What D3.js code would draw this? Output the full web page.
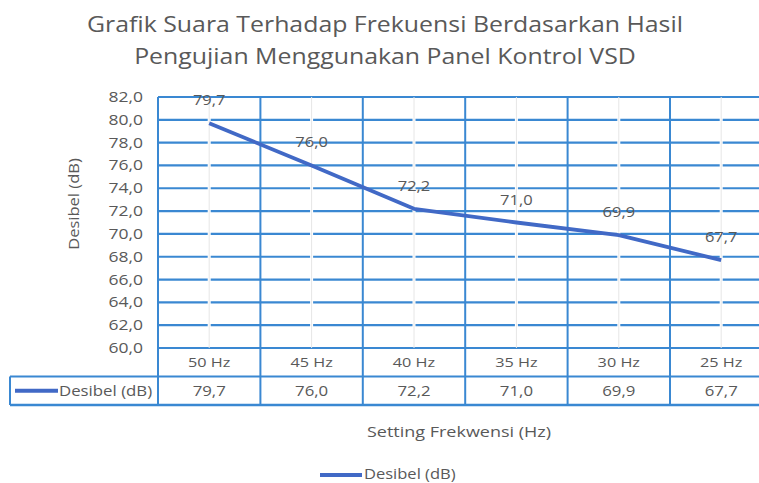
<!DOCTYPE html>
<html><head><meta charset="utf-8">
<script src="https://cdn.jsdelivr.net/npm/d3@7"></script>
<style>body{margin:0;background:#fff}svg{display:block}text{font-family:"Open Sans",sans-serif;fill:#595959}</style>
</head><body><svg id="c" width="759" height="483"></svg>
<script>
const categories = ["50 Hz","45 Hz","40 Hz","35 Hz","30 Hz","25 Hz"];
const values = [79.7,76.0,72.2,71.0,69.9,67.7];
const seriesName = "Desibel (dB)";
const yTicks = [60,62,64,66,68,70,72,74,76,78,80,82];
const titleLines = ["Grafik Suara Terhadap Frekuensi Berdasarkan Hasil","Pengujian Menggunakan Panel Kontrol VSD"];
const xTitle = "Setting Frekwensi (Hz)";
const yTitle = "Desibel (dB)";

(function(){
const svg = d3.select("#c");
const fmt = v => v.toFixed(1).replace(".", ",");
const blue = "#3a88d2", lineCol = "#4169c6";
const pLeft = 158, colW = 102.4, pTop = 97, pBottom = 348;
const x = d3.scaleBand().domain(categories).range([pLeft, pLeft + colW*categories.length]);
const y = d3.scaleLinear().domain([60,82]).range([pBottom, pTop]);
const rowH = 28.5, tableBottom = pBottom + 2*rowH;
const cx = c => x(c) + x.bandwidth()/2;

function txt(sel, data, fx, fy, ftext, size, sx, anchor, rot) {
  return sel.append("g").selectAll("text").data(data).join("text")
    .attr("transform", (d,i) => `translate(${fx(d,i)},${fy(d,i)})${rot ? " rotate(" + rot + ")" : ""} scale(${sx},1)`)
    .attr("text-anchor", anchor).attr("font-size", size).text(ftext);
}

txt(svg, titleLines, ()=>385, (d,i)=>32+i*32, d=>d, 22, 1.13, "middle");

svg.append("g").selectAll("line").data(yTicks).join("line")
  .attr("x1", pLeft).attr("x2", 780).attr("y1", d=>y(d)).attr("y2", d=>y(d))
  .attr("stroke", blue).attr("stroke-width", 2.2);
const cg = svg.append("g");
categories.forEach(c=>{
  cg.append("line").attr("x1",cx(c)).attr("x2",cx(c)).attr("y1",pTop+2).attr("y2",pBottom-2)
    .attr("stroke","#fff").attr("stroke-width",3);
  cg.append("line").attr("x1",cx(c)).attr("x2",cx(c)).attr("y1",pTop).attr("y2",pBottom)
    .attr("stroke","#e6e6e6").attr("stroke-width",1);
});
svg.append("g").selectAll("line").data(categories).join("line")
  .attr("x1", d=>x(d)).attr("x2", d=>x(d)).attr("y1", pTop).attr("y2", tableBottom)
  .attr("stroke", blue).attr("stroke-width", 2);
svg.append("line").attr("x1",10).attr("x2",780).attr("y1",pBottom+rowH).attr("y2",pBottom+rowH).attr("stroke",blue).attr("stroke-width",2);
svg.append("line").attr("x1",10).attr("x2",780).attr("y1",tableBottom).attr("y2",tableBottom).attr("stroke",blue).attr("stroke-width",2.5);
svg.append("line").attr("x1",10).attr("x2",10).attr("y1",pBottom+rowH).attr("y2",tableBottom).attr("stroke",blue).attr("stroke-width",2);

txt(svg, yTicks, ()=>143, d=>y(d)+5, d=>fmt(d), 14, 1.25, "end");
txt(svg, [yTitle], ()=>79, ()=>204, d=>d, 14, 1.18, "middle", -90);

const pts = categories.map((c,i)=>({c, v:values[i]}));
svg.append("path").datum(pts)
  .attr("d", d3.line().x(d=>cx(d.c)).y(d=>y(d.v)))
  .attr("fill","none").attr("stroke",lineCol).attr("stroke-width",3.8).attr("stroke-linejoin","round");
txt(svg, pts, d=>cx(d.c), d=>y(d.v)-18, d=>fmt(d.v), 14, 1.18, "middle");

txt(svg, categories, d=>cx(d), ()=>pBottom+19, d=>d, 13, 1.25, "middle");
txt(svg, pts, d=>cx(d.c), ()=>pBottom+rowH+19.5, d=>fmt(d.v), 14, 1.2, "middle");
svg.append("line").attr("x1",15).attr("x2",58).attr("y1",pBottom+rowH*1.5).attr("y2",pBottom+rowH*1.5)
  .attr("stroke",lineCol).attr("stroke-width",3.8);
txt(svg, [seriesName], ()=>59, ()=>pBottom+rowH+19.5, d=>d, 14, 1.2, "start");

txt(svg, [xTitle], ()=>459, ()=>437, d=>d, 15, 1.2, "middle");
svg.append("line").attr("x1",320).attr("x2",362).attr("y1",475).attr("y2",475).attr("stroke",lineCol).attr("stroke-width",3.8);
txt(svg, [seriesName], ()=>364, ()=>479, d=>d, 14, 1.18, "start");
})();
</script></body></html>
